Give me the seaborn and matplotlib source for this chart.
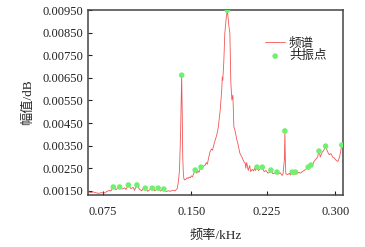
import numpy as np
import pandas as pd
import seaborn as sns
import matplotlib.pyplot as plt
from matplotlib.ticker import FixedLocator, FormatStrFormatter

# spectrum (kHz, amplitude)
freq = [0.064, 0.066, 0.068, 0.070, 0.072, 0.074, 0.076, 0.078, 0.080, 0.081,
        0.083, 0.085, 0.086, 0.088, 0.090, 0.092, 0.093, 0.095, 0.097, 0.099,
        0.100, 0.102, 0.104, 0.106, 0.107, 0.109, 0.111, 0.113, 0.115, 0.117,
        0.120, 0.122, 0.125, 0.127, 0.129, 0.131, 0.133, 0.135, 0.137, 0.138,
        0.139, 0.140, 0.141, 0.1415, 0.142, 0.1425, 0.143, 0.1435, 0.145, 0.146,
        0.147, 0.148, 0.149, 0.150, 0.151, 0.152, 0.1535, 0.155, 0.156, 0.157,
        0.159, 0.160, 0.161, 0.163, 0.164, 0.165, 0.166, 0.1675, 0.169, 0.170,
        0.172, 0.174, 0.1755, 0.1775, 0.179, 0.1795, 0.180, 0.181, 0.182, 0.1835,
        0.1845, 0.186, 0.187, 0.188, 0.189, 0.190, 0.191, 0.192, 0.194, 0.195,
        0.197, 0.199, 0.200, 0.2015, 0.2025, 0.203, 0.204, 0.2055, 0.207, 0.208,
        0.2095, 0.211, 0.212, 0.213, 0.2145, 0.216, 0.218, 0.220, 0.222, 0.224,
        0.226, 0.228, 0.229, 0.231, 0.233, 0.2355, 0.237, 0.239, 0.241, 0.242,
        0.2435, 0.244, 0.2445, 0.245, 0.247, 0.249, 0.250, 0.252, 0.254, 0.2555,
        0.257, 0.259, 0.261, 0.263, 0.265, 0.267, 0.2695, 0.271, 0.2725, 0.274,
        0.276, 0.278, 0.280, 0.2815, 0.283, 0.285, 0.287, 0.289, 0.291, 0.293,
        0.295, 0.297, 0.299, 0.301, 0.303, 0.305, 0.3075]
amp = [0.00146, 0.00143, 0.00145, 0.00141, 0.00139, 0.00142, 0.00140, 0.00147, 0.00152, 0.00149,
       0.00167, 0.00155, 0.00160, 0.00167, 0.00158, 0.00163, 0.00156, 0.00176, 0.00160, 0.00165,
       0.00152, 0.00176, 0.00158, 0.00150, 0.00160, 0.00162, 0.00148, 0.00156, 0.00162, 0.00150,
       0.00162, 0.00149, 0.00158, 0.00147, 0.00150, 0.00148, 0.00153, 0.00150, 0.00160, 0.00190,
       0.00240, 0.00400, 0.00662, 0.00500, 0.00300, 0.00230, 0.00205, 0.00198, 0.00202, 0.00208,
       0.00205, 0.00211, 0.00208, 0.00216, 0.00212, 0.00225, 0.00242, 0.00228, 0.00238, 0.00232,
       0.00255, 0.00245, 0.00258, 0.00264, 0.00275, 0.00268, 0.00290, 0.00322, 0.00335, 0.00330,
       0.00366, 0.00395, 0.00428, 0.00508, 0.00600, 0.00654, 0.00640, 0.00720, 0.00848, 0.00920,
       0.00950, 0.00880, 0.00848, 0.00627, 0.00552, 0.00574, 0.00433, 0.00420, 0.00375, 0.00360,
       0.00317, 0.00300, 0.00290, 0.00275, 0.00273, 0.00250, 0.00275, 0.00240, 0.00262, 0.00235,
       0.00245, 0.00238, 0.00250, 0.00240, 0.00255, 0.00240, 0.00248, 0.00255, 0.00235, 0.00240,
       0.00228, 0.00232, 0.00242, 0.00226, 0.00228, 0.00233, 0.00224, 0.00230, 0.00218, 0.00225,
       0.00290, 0.00415, 0.00290, 0.00225, 0.00222, 0.00228, 0.00220, 0.00233, 0.00222, 0.00233,
       0.00224, 0.00232, 0.00228, 0.00236, 0.00240, 0.00246, 0.00255, 0.00250, 0.00264, 0.00262,
       0.00280, 0.00290, 0.00300, 0.00326, 0.00300, 0.00320, 0.00330, 0.00348, 0.00325, 0.00310,
       0.00315, 0.00300, 0.00295, 0.00285, 0.00280, 0.00300, 0.00353]

# resonance points
peak_freq = [0.083, 0.088, 0.095, 0.102, 0.109, 0.115, 0.120, 0.125, 0.141, 0.1535,
             0.159, 0.1845, 0.2145, 0.220, 0.229, 0.2355, 0.244, 0.252, 0.2555, 0.2695,
             0.2725, 0.2815, 0.289, 0.3075]
peak_amp = [0.00167, 0.00167, 0.00176, 0.00176, 0.00162, 0.00162, 0.00162, 0.00158, 0.00662, 0.00242,
            0.00255, 0.00950, 0.00255, 0.00255, 0.00242, 0.00233, 0.00415, 0.00233, 0.00233, 0.00255,
            0.00264, 0.00326, 0.00348, 0.00353]

xticks = [0.075, 0.150, 0.225, 0.300]
yticks = [0.0015, 0.0025, 0.0035, 0.0045, 0.0055, 0.0065, 0.0075, 0.0085, 0.0095]

spec = pd.DataFrame({"f": freq, "a": amp})
peaks = pd.DataFrame({"f": peak_freq, "a": peak_amp})

sns.set_style("ticks")
plt.rcParams["font.family"] = ["Liberation Serif", "Noto Sans CJK SC"]

fig = plt.figure(figsize=(3.65, 2.47), dpi=100)
ax = fig.add_axes([0.241, 0.21, 0.699, 0.749])

sns.lineplot(data=spec, x="f", y="a", ax=ax, color="#f25555", lw=0.6, label="频谱")
sns.scatterplot(data=peaks, x="f", y="a", ax=ax, color="#70f070", s=16,
                edgecolor="none", label="共振点", zorder=3)

# the original x axis is slightly compressed to the right
ax.set_xscale("function", functions=(lambda x: np.sign(x) * np.abs(x) ** 0.7,
                                     lambda x: np.sign(x) * np.abs(x) ** (1 / 0.7)))
ax.set_xlim(0.064, 0.309)
ax.set_ylim(0.00131, 0.0095)
ax.xaxis.set_major_locator(FixedLocator(xticks))
ax.xaxis.set_minor_locator(FixedLocator([]))
ax.xaxis.set_major_formatter(FormatStrFormatter("%.3f"))
ax.set_yticks(yticks)
ax.yaxis.set_major_formatter(FormatStrFormatter("%.5f"))
ax.tick_params(direction="in", length=3, width=0.8, labelsize=9, colors="#222222",
               top=False, right=False)
ax.tick_params(axis="x", pad=8)
for s in ax.spines.values():
    s.set_color("#444444")
    s.set_linewidth(1.1)

ax.set_xlabel("频率/kHz", fontsize=9.5, labelpad=8)
ax.set_ylabel("幅值/dB", fontsize=9.5, labelpad=6)

ax.legend(loc="upper left", bbox_to_anchor=(0.67, 0.885), frameon=False, fontsize=9,
          handlelength=1.6, handletextpad=0.3, labelspacing=0.05, borderpad=0)

fig.savefig("out.png", dpi=100)
